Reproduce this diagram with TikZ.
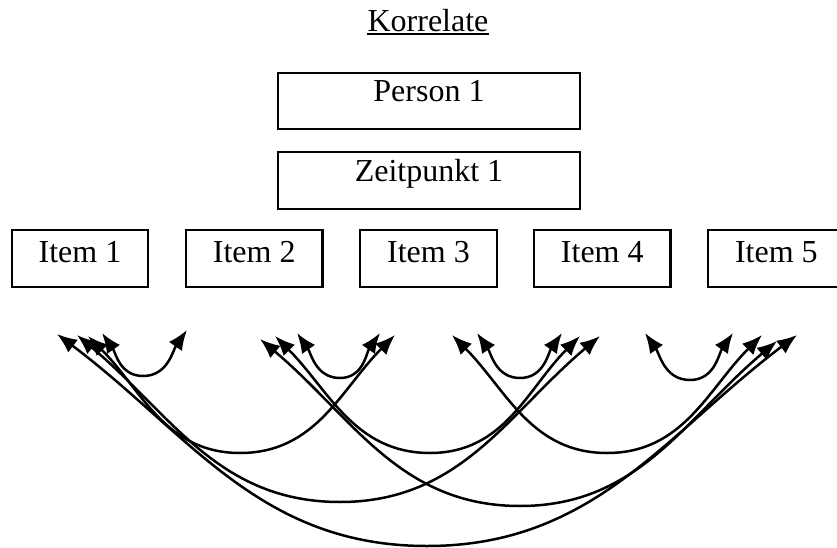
\documentclass[tikz,border=0pt]{standalone}
\usepackage{fontspec}
\setmainfont{Liberation Serif}
\usetikzlibrary{arrows.meta}
\begin{document}
\begin{tikzpicture}[x=1pt,y=-1pt,
  box/.style={draw, line width=2.3pt, inner sep=0pt, font=\fontsize{32}{38}\selectfont, text height=21.6pt},
  itembox/.style={box, minimum width=136.6pt, minimum height=57.3pt, text depth=14.9pt},
  arc/.style={line width=2.5pt, {Latex[length=20pt,width=16pt]}-{Latex[length=20pt,width=16pt]}}]
\useasboundingbox (0,0) rectangle (837,548);
\begin{scope}
\clip (0,0) rectangle (837,548);
% title
\node[anchor=base, inner sep=0pt, font=\fontsize{32}{38}\selectfont] (title) at (428,31.7) {Korrelate};
\draw[line width=1.8pt] ([yshift=-2.4pt]title.base west) -- ([yshift=-2.4pt]title.base east);
% boxes
\node[box, minimum width=302pt, minimum height=56.3pt, text depth=19.3pt] (p1) at (429,100.85) {Person 1};
\node[box, minimum width=302pt, minimum height=57.3pt, text depth=18.9pt] (z1) at (429,180.35) {Zeitpunkt 1};
\node[itembox] (i1) at (80,258.65) {Item 1};
\node[itembox] (i2) at (254.2,258.65) {Item 2};
\node[itembox] (i3) at (428.5,258.65) {Item 3};
\node[itembox] (i4) at (602.3,258.65) {Item 4};
\node[itembox] (i5) at (776.4,258.65) {Item 5};
% arrow ends
\coordinate (a1) at (57,334);
\coordinate (a2) at (77,335);
\coordinate (a3) at (88,336);
\coordinate (a4) at (102,333);
\coordinate (b1) at (187,330);
\coordinate (b2) at (260,339);
\coordinate (b3) at (275,336);
\coordinate (b4) at (297,333);
\coordinate (c1) at (380,333);
\coordinate (c2) at (395,335);
\coordinate (c3) at (452,335);
\coordinate (c4) at (477,333);
\coordinate (d1) at (562,333);
\coordinate (d2) at (580,336);
\coordinate (d3) at (600,336);
\coordinate (d4) at (645,333);
\coordinate (e1) at (733,333);
\coordinate (e2) at (762,335);
\coordinate (e3) at (777,341);
\coordinate (e4) at (797,335);
% bottoms
\coordinate (m12) at (143,376);
\coordinate (m23) at (340,378);
\coordinate (m34) at (520,378);
\coordinate (m45) at (690,380);
\coordinate (m13) at (240,453);
\coordinate (m24) at (430,453);
\coordinate (m35) at (607,453);
\coordinate (m14) at (340,502);
\coordinate (m25) at (520,506);
\coordinate (m15) at (427,546);
% arcs
\draw[arc] (a4) to[out=-55,in=180] (m12) to[out=0,in=-125] (b1);
\draw[arc] (b4) to[out=-55,in=180] (m23) to[out=0,in=-125] (c1);
\draw[arc] (c4) to[out=-55,in=180] (m34) to[out=0,in=-125] (d1);
\draw[arc] (d4) to[out=-55,in=180] (m45) to[out=0,in=-125] (e1);
\draw[arc] (a3) to[out=-45,in=180] (m13) to[out=0,in=-135] (c2);
\draw[arc] (b3) to[out=-45,in=180] (m24) to[out=0,in=-135] (d2);
\draw[arc] (c3) to[out=-45,in=180] (m35) to[out=0,in=-135] (e2);
\draw[arc] (a2) to[out=-40,in=180] (m14) to[out=0,in=-140] (d3);
\draw[arc] (b2) to[out=-40,in=180] (m25) to[out=0,in=-140] (e3);
\draw[arc] (a1) to[out=-37,in=180] (m15) to[out=0,in=-143] (e4);
\end{scope}
\end{tikzpicture}
\end{document}
